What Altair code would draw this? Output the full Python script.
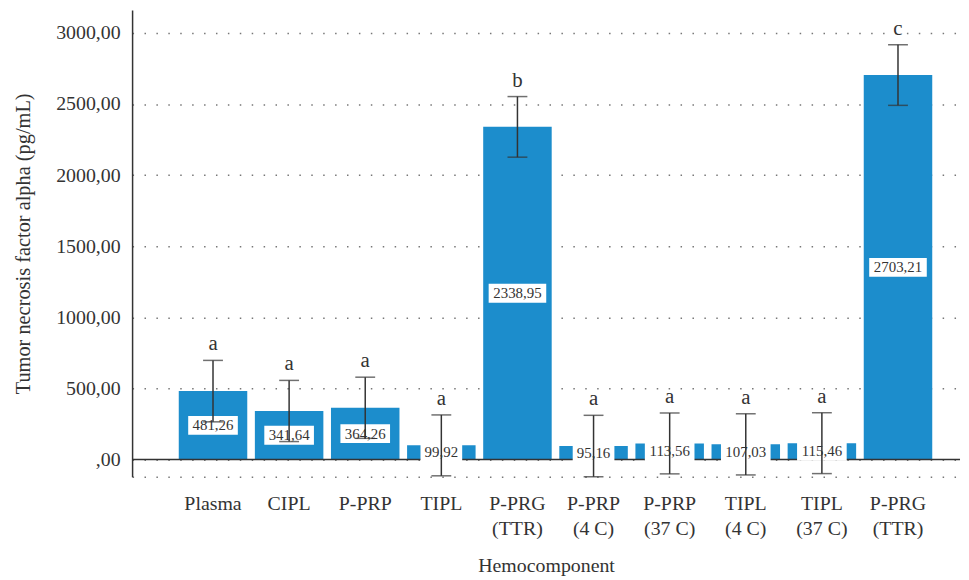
import json
import altair as alt
import pandas as pd

categories = ["Plasma", "CIPL", "P-PRP", "TIPL", "P-PRG\n(TTR)", "P-PRP\n(4 C)",
              "P-PRP\n(37 C)", "TIPL\n(4 C)", "TIPL\n(37 C)", "P-PRG\n(TTR)"]
values = [481.26, 341.64, 364.26, 99.92, 2338.95, 95.16, 113.56, 107.03, 115.46, 2703.21]
errors = [216, 215, 215, 214, 213, 216, 214, 215, 214, 213]
letters = ["a", "a", "a", "a", "b", "a", "a", "a", "a", "c"]
y_ticks = [-120, 0, 500, 1000, 1500, 2000, 2500, 3000]

keys = [str(i) for i in range(len(categories))]
df = pd.DataFrame({"key": keys, "value": values, "err": errors, "letter": letters})

FONT = "Liberation Serif"
BLUE = "#1C8DCC"
DARK = "#333333"

label_expr = "split(" + json.dumps(categories) + "[toNumber(datum.value)], '\\n')"

x = alt.X("key:N", sort=keys,
          scale=alt.Scale(paddingInner=0.1, paddingOuter=0.489, align=0.627),
          axis=alt.Axis(title="Hemocomponent", labelExpr=label_expr, labelAngle=0,
                        labelFontSize=20, labelColor=DARK, labelPadding=17,
                        labelFontWeight="normal",
                        labelLineHeight=25, domain=False, ticks=False, grid=False,
                        titleFontSize=20, titleFontWeight="normal", titleColor=DARK,
                        titlePadding=18))

yscale = alt.Scale(domain=[-120, 3160], nice=False, zero=False)
yaxis = alt.Axis(title="Tumor necrosis factor alpha (pg/mL)", values=y_ticks,
                 labelExpr="datum.value < 0 ? '' : (datum.value == 0 ? ',00' : replace(format(datum.value, '.2f'), '.', ','))",
                 labelFontSize=20, labelColor=DARK, labelPadding=12, ticks=False,
                 labelFontWeight="normal",
                 domainColor=DARK, domainWidth=1.5, grid=True, gridDash=[1.5, 10.5],
                 gridColor="#777", gridWidth=1.5, titleFontSize=20.5,
                 titleFontWeight="normal", titleColor=DARK, titlePadding=22)

base = alt.Chart(df).transform_calculate(
    lo="datum.value - datum.err",
    hi="datum.value + datum.err",
    mid="datum.value / 2",
    lab="replace(format(datum.value, '.2f'), '.', ',')",
).transform_calculate(
    bw="8 * length(datum.lab) + 2",
).transform_calculate(
    box="'M' + (-datum.bw/2) + ',-9.5L' + (datum.bw/2) + ',-9.5L' + (datum.bw/2) + ',9.5L' + (-datum.bw/2) + ',9.5Z'"
)

bars = base.mark_bar(color=BLUE).encode(x=x, y=alt.Y("value:Q", scale=yscale, axis=yaxis))

zero = alt.Chart(pd.DataFrame({"z": [0]})).mark_rule(color=DARK, strokeWidth=1.5).encode(
    y=alt.Y("z:Q", scale=yscale))

boxes = base.mark_point(filled=True, fill="white", opacity=1, strokeWidth=0).encode(
    x=x, y=alt.Y("mid:Q", scale=yscale),
    shape=alt.Shape("box:N", scale=None), size=alt.value(4))

texts = base.mark_text(font=FONT, fontSize=15, color=DARK, baseline="middle").encode(
    x=x, y=alt.Y("mid:Q", scale=yscale), text="lab:N")

err_rule = base.mark_rule(color=DARK, strokeWidth=1.5).encode(
    x=x, y=alt.Y("lo:Q", scale=yscale), y2="hi:Q")
cap_lo = base.mark_tick(color=DARK, size=20, thickness=1.5).encode(
    x=x, y=alt.Y("lo:Q", scale=yscale))
cap_hi = base.mark_tick(color=DARK, size=20, thickness=1.5).encode(
    x=x, y=alt.Y("hi:Q", scale=yscale))

lets = base.mark_text(font=FONT, fontSize=21, color=DARK, baseline="alphabetic", dy=-10).encode(
    x=x, y=alt.Y("hi:Q", scale=yscale), text="letter:N")

chart = alt.layer(bars, zero, boxes, texts, err_rule, cap_lo, cap_hi, lets).properties(
    width=834, height=470,
    padding={"left": 6, "top": 0, "right": 0, "bottom": 0},
).configure(font=FONT).configure_view(stroke=None)

chart.save("out.html", embed_options={"renderer": "svg", "actions": False})
